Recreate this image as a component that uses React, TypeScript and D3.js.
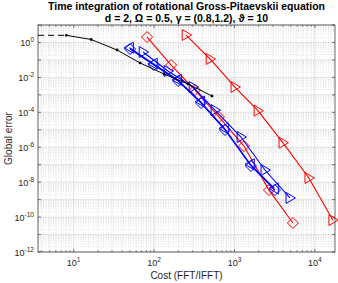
import React from 'react'
import * as d3 from 'd3'

const W = 338
const H = 283
const MARGIN = { top: 25, right: 3, bottom: 31, left: 38 }

// reference method (black, small dots) + its dashed start
const blackCost = [8.1, 16.5, 34.7, 67, 133, 264, 525]
const blackErr = [2.57, 1.48, 0.37, 0.067, 0.0156, 0.0042, 8.6e-4]
const dashCost = [3.6, 8.1]
const dashErr = [2.57, 2.57]

// red methods
const redDiamondCost = [81.8, 163, 323, 641, 1312, 2686, 5330]
const redDiamondErr = [2.05, 0.051, 1.89e-3, 5.4e-5, 1.17e-6, 3.5e-9, 4.6e-11]
const redTriCost = [250, 497, 1013, 1958, 4000, 8420, 16700]
const redTriErr = [2.67, 0.113, 2.81e-3, 1.24e-4, 1.82e-6, 1.74e-8, 6.8e-11]

// blue methods
const blueDiamondCost = [50.3, 99.5, 199, 384, 762, 1603, 3185]
const blueDiamondErr = [0.42, 0.051, 6.2e-3, 3.4e-4, 9.7e-6, 8.4e-8, 3.5e-9]
const blueLeftCost = [49.5, 98, 196, 379, 752, 1580, 3140]
const blueLeftErr = [0.5, 0.06, 7.3e-3, 4.1e-4, 1.2e-5, 1.05e-7, 4.4e-9]
const blueRightCost = [73, 149, 305, 572, 1205, 2393, 4890]
const blueRightErr = [0.284, 0.0232, 2.8e-3, 1.35e-4, 3.85e-6, 4.95e-8, 1.24e-9]

const xTicks = [10, 100, 1000, 10000]
const yLabelExps = [0, -2, -4, -6, -8, -10, -12]

const RED = '#ff0000'
const BLUE = '#0000ff'
const AXIS = '#262626'
const FONT = '"Liberation Sans", Arial, sans-serif'

type Marker = 'diamond' | 'tri-right' | 'tri-left' | 'dot'

const series: { cost: number[]; err: number[]; color: string; marker: Marker }[] = [
  { cost: redDiamondCost, err: redDiamondErr, color: RED, marker: 'diamond' },
  { cost: redTriCost, err: redTriErr, color: RED, marker: 'tri-right' },
  { cost: blueDiamondCost, err: blueDiamondErr, color: BLUE, marker: 'diamond' },
  { cost: blueLeftCost, err: blueLeftErr, color: BLUE, marker: 'tri-left' },
  { cost: blueRightCost, err: blueRightErr, color: BLUE, marker: 'tri-right' },
  { cost: blackCost, err: blackErr, color: '#000000', marker: 'dot' },
]

function markerPath(m: Marker, x: number, y: number) {
  const r = 5.5
  if (m === 'diamond') return `M${x},${y - r}L${x + r},${y}L${x},${y + r}L${x - r},${y}Z`
  if (m === 'tri-right') return `M${x + r},${y}L${x - r * 0.7},${y - r}L${x - r * 0.7},${y + r}Z`
  if (m === 'tri-left') return `M${x - r},${y}L${x + r * 0.7},${y - r}L${x + r * 0.7},${y + r}Z`
  return ''
}

export default function App() {
  const bw = W - MARGIN.left - MARGIN.right
  const bh = H - MARGIN.top - MARGIN.bottom

  const xScale = d3.scaleLog().domain([3.6, 17800]).range([0, bw])
  const yScale = d3.scaleLog().domain([1e-12, 10]).range([bh, 0])

  const pathFor = (cost: number[], err: number[]) =>
    d3
      .line<[number, number]>()
      .x((d) => xScale(d[0]))
      .y((d) => yScale(d[1]))(cost.map((c, i) => [c, err[i]]))

  // minor grid values
  const xMinor: number[] = []
  for (let e = 0; e <= 4; e++)
    for (let k = 2; k <= 9; k++) {
      const v = k * Math.pow(10, e)
      if (v > 3.6 && v < 17800) xMinor.push(v)
    }
  const yMajor: number[] = []
  const yMinor: number[] = []
  for (let e = -12; e <= 1; e++) {
    yMajor.push(Math.pow(10, e))
    if (e < 1) for (let k = 2; k <= 9; k++) yMinor.push(k * Math.pow(10, e))
  }

  return (
    <div style={{ position: 'fixed', left: 0, top: 0 }}>
      <svg width={W} height={H} style={{ display: 'block', background: '#fff' }} fontFamily={FONT}>
        <text x={MARGIN.left + bw / 2} y={10} textAnchor="middle" fontSize={10.5} fontWeight="bold" fill="#000">
          Time integration of rotational Gross-Pitaevskii equation
        </text>
        <text x={MARGIN.left + bw / 2} y={22} textAnchor="middle" fontSize={10.5} fontWeight="bold" fill="#000">
          d = 2, Ω = 0.5, γ = (0.8,1.2), ϑ = 10
        </text>
        <g transform={`translate(${MARGIN.left},${MARGIN.top})`}>
          {/* grid */}
          {xMinor.map((v) => (
            <line key={'xm' + v} x1={xScale(v)} x2={xScale(v)} y1={0} y2={bh} stroke="#cfcfcf" strokeWidth={0.6} strokeDasharray="1,1.5" />
          ))}
          {yMinor.map((v) => (
            <line key={'ym' + v} x1={0} x2={bw} y1={yScale(v)} y2={yScale(v)} stroke="#cfcfcf" strokeWidth={0.6} strokeDasharray="1,1.5" />
          ))}
          {xTicks.map((v) => (
            <line key={'xg' + v} x1={xScale(v)} x2={xScale(v)} y1={0} y2={bh} stroke="#d9d9d9" strokeWidth={0.7} />
          ))}
          {yMajor.map((v) => (
            <line key={'yg' + v} x1={0} x2={bw} y1={yScale(v)} y2={yScale(v)} stroke="#d9d9d9" strokeWidth={0.7} />
          ))}
          {/* ticks */}
          {xTicks.map((v) => (
            <g key={'xt' + v}>
              <line x1={xScale(v)} x2={xScale(v)} y1={bh} y2={bh - 3} stroke={AXIS} strokeWidth={0.6} />
              <line x1={xScale(v)} x2={xScale(v)} y1={0} y2={3} stroke={AXIS} strokeWidth={0.6} />
            </g>
          ))}
          {xMinor.map((v) => (
            <g key={'xmt' + v}>
              <line x1={xScale(v)} x2={xScale(v)} y1={bh} y2={bh - 1.8} stroke={AXIS} strokeWidth={0.5} />
              <line x1={xScale(v)} x2={xScale(v)} y1={0} y2={1.8} stroke={AXIS} strokeWidth={0.5} />
            </g>
          ))}
          {yMajor.map((v) => (
            <g key={'yt' + v}>
              <line x1={0} x2={3} y1={yScale(v)} y2={yScale(v)} stroke={AXIS} strokeWidth={0.6} />
              <line x1={bw} x2={bw - 3} y1={yScale(v)} y2={yScale(v)} stroke={AXIS} strokeWidth={0.6} />
            </g>
          ))}
          {/* series */}
          <path d={pathFor(dashCost, dashErr) || ''} fill="none" stroke="#000" strokeWidth={1} strokeDasharray="6,4" />
          {series.map((s, i) => (
            <g key={'s' + i}>
              <path d={pathFor(s.cost, s.err) || ''} fill="none" stroke={s.color} strokeWidth={s.marker === 'dot' ? 1 : 1.1} />
              {s.cost.map((c, j) =>
                s.marker === 'dot' ? (
                  <circle key={j} cx={xScale(c)} cy={yScale(s.err[j])} r={1.4} fill="#000" />
                ) : (
                  <path key={j} d={markerPath(s.marker, xScale(c), yScale(s.err[j]))} fill="none" stroke={s.color} strokeWidth={1} />
                )
              )}
            </g>
          ))}
          {/* box */}
          <rect x={0} y={0} width={bw} height={bh} fill="none" stroke={AXIS} strokeWidth={0.7} />
          {/* tick labels */}
          {xTicks.map((v) => (
            <text key={'xl' + v} x={xScale(v)} y={bh + 14} textAnchor="middle" fontSize={9} fill={AXIS}>
              10<tspan dy={-4} fontSize={6.5}>{Math.round(Math.log10(v))}</tspan>
            </text>
          ))}
          {yLabelExps.map((e) => (
            <text key={'yl' + e} x={-4} y={yScale(Math.pow(10, e)) + 4} textAnchor="end" fontSize={9} fill={AXIS}>
              10<tspan dy={-4} fontSize={6.5}>{e}</tspan>
            </text>
          ))}
          <text x={bw / 2} y={bh + 27} textAnchor="middle" fontSize={10} fill={AXIS}>
            Cost (FFT/IFFT)
          </text>
          <text transform={`translate(${-26},${bh / 2}) rotate(-90)`} textAnchor="middle" fontSize={10} fill={AXIS}>
            Global error
          </text>
        </g>
      </svg>
    </div>
  )
}
